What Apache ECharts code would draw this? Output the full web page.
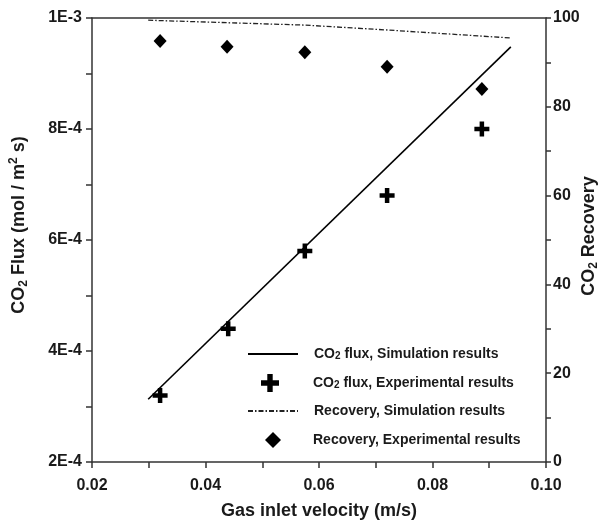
<!DOCTYPE html>
<html>
<head>
<meta charset="utf-8">
<script src="https://cdn.jsdelivr.net/npm/echarts@6/dist/echarts.min.js"></script>
<style>html,body{margin:0;padding:0;background:#fff}#c{width:600px;height:521px}</style>
</head>
<body>
<div id="c"></div>
<script>
// ---- data ----
const fluxSimX = [0.0299, 0.0938];
const fluxSimY = [3.13e-4, 9.48e-4];
const fluxExpX = [0.032, 0.044, 0.0575, 0.072, 0.0887];
const fluxExpY = [3.2e-4, 4.4e-4, 5.8e-4, 6.8e-4, 8.0e-4];
const recSimX = [0.0299, 0.0575, 0.072, 0.0938];
const recSimY = [99.5, 98.4, 97.3, 95.5];
const recExpX = [0.032, 0.0438, 0.0575, 0.072, 0.0887];
const recExpY = [94.8, 93.5, 92.3, 89.0, 84.0];
const seriesNames = ['CO2 flux, Simulation results', 'CO2 flux, Experimental results',
  'Recovery, Simulation results', 'Recovery, Experimental results'];
const xTickLabels = ['0.02', '0.04', '0.06', '0.08', '0.10'];
const yLeftTickLabels = ['2E-4', '4E-4', '6E-4', '8E-4', '1E-3'];
const yRightTickLabels = ['0', '20', '40', '60', '80', '100'];

const zip = (xs, ys) => xs.map((x, i) => [x, ys[i]]);
const FONT = "'Liberation Sans', Arial, sans-serif";
const TXT = '#1a1a1a';
const AX = '#333';
const plusPath = 'path://M3.5,0H6.5V3.5H10V6.5H6.5V10H3.5V6.5H0V3.5H3.5Z';

function legendRich(sp) {
  return {
    sp: {width: sp},
    a: {fontSize: 14, fontWeight: 'bold', lineHeight: 14, verticalAlign: 'top', color: TXT, fontFamily: FONT},
    s: {fontSize: 10, fontWeight: 'bold', lineHeight: 11, verticalAlign: 'bottom', color: TXT, fontFamily: FONT}
  };
}
function legendFmt(name) {
  if (name.indexOf('CO2') === 0) return '{sp| }{a|CO}{s|2}{a|' + name.slice(3) + '}';
  return '{sp| }{a|' + name + '}';
}
// textX: where the label text should start; the spacer fills the gap after the icon
function mkLegend(name, left, top, w, h, textX, hideSymbol) {
  const item = {name: name};
  if (hideSymbol) item.itemStyle = {color: 'rgba(0,0,0,0)', borderColor: 'rgba(0,0,0,0)', borderWidth: 0, opacity: 0};
  return {
    show: true, orient: 'vertical', left: left, top: top, padding: 0,
    itemWidth: w, itemHeight: h, data: [item], selectedMode: false,
    formatter: legendFmt,
    textStyle: {rich: legendRich(textX - (left + w + 5)), color: TXT, fontFamily: FONT}
  };
}

const chart = echarts.init(document.getElementById('c'), null, {renderer: 'canvas'});
chart.setOption({
  animation: false,
  backgroundColor: '#fff',
  grid: {left: 92, right: 54, top: 18, bottom: 59, containLabel: false, outerBoundsMode: 'none'},
  legend: [
    mkLegend(seriesNames[0], 247, 347, 50, 16, 313, true),
    mkLegend(seriesNames[1], 261, 374, 18, 18, 313, false),
    mkLegend(seriesNames[2], 247, 404, 50, 16, 313, true),
    mkLegend(seriesNames[3], 265, 432, 16, 16, 313, false)
  ],
  xAxis: [{
    type: 'value', min: 0.02, max: 0.10, interval: 0.01, position: 'bottom',
    name: 'Gas inlet velocity (m/s)', nameLocation: 'middle', nameGap: 40, nameMoveOverlap: false,
    nameTextStyle: {fontSize: 18, fontWeight: 'bold', color: TXT, fontFamily: FONT},
    axisLine: {show: true, lineStyle: {color: AX, width: 1.5}},
    axisTick: {show: true, inside: false, length: 6, lineStyle: {color: AX, width: 1.5}},
    axisLabel: {
      margin: 16, fontSize: 16, fontWeight: 'bold', color: TXT, fontFamily: FONT,
      formatter: v => { const k = Math.round(v * 100); return k % 2 === 0 ? xTickLabels[(k - 2) / 2] : ''; }
    },
    splitLine: {show: false}
  }, {
    type: 'value', min: 0.02, max: 0.10, position: 'top',
    axisLine: {show: true, lineStyle: {color: AX, width: 1.5}},
    axisTick: {show: false}, axisLabel: {show: false}, splitLine: {show: false}
  }],
  yAxis: [{
    type: 'value', min: 2e-4, max: 1e-3, interval: 1e-4, position: 'left',
    name: '{a|CO}{s|2}{a| Flux (mol / m}{p|2}{a| s)}', nameLocation: 'middle', nameGap: 62, nameMoveOverlap: false,
    nameTextStyle: {
      color: TXT, fontFamily: FONT, padding: [0, 0, 0, 30],
      rich: {
        a: {fontSize: 18, fontWeight: 'bold', lineHeight: 22, color: TXT, fontFamily: FONT},
        s: {fontSize: 12, fontWeight: 'bold', lineHeight: 12, verticalAlign: 'bottom', color: TXT, fontFamily: FONT},
        p: {fontSize: 12, fontWeight: 'bold', lineHeight: 14, verticalAlign: 'top', color: TXT, fontFamily: FONT}
      }
    },
    axisLine: {show: true, lineStyle: {color: AX, width: 1.5}},
    axisTick: {show: true, inside: false, length: 6, lineStyle: {color: AX, width: 1.5}},
    axisLabel: {
      margin: 10, fontSize: 16, fontWeight: 'bold', color: TXT, fontFamily: FONT,
      formatter: v => { const k = Math.round(v * 1e4); return k % 2 === 0 ? yLeftTickLabels[(k - 2) / 2] : ''; }
    },
    splitLine: {show: false}
  }, {
    type: 'value', min: 0, max: 100, interval: 10, position: 'right',
    name: '{a|CO}{s|2}{a| Recovery}', nameLocation: 'middle', nameGap: 32, nameRotate: 90, nameMoveOverlap: false,
    nameTextStyle: {
      color: TXT, fontFamily: FONT, padding: [0, 0, 0, 8],
      rich: {
        a: {fontSize: 18, fontWeight: 'bold', lineHeight: 22, color: TXT, fontFamily: FONT},
        s: {fontSize: 12, fontWeight: 'bold', lineHeight: 12, verticalAlign: 'bottom', color: TXT, fontFamily: FONT}
      }
    },
    axisLine: {show: true, lineStyle: {color: AX, width: 1.5}},
    axisTick: {show: true, inside: false, length: 5, lineStyle: {color: AX, width: 1.5}},
    axisLabel: {
      margin: 7, fontSize: 16, fontWeight: 'bold', color: TXT, fontFamily: FONT,
      formatter: v => { const k = Math.round(v); return k % 20 === 0 ? yRightTickLabels[k / 20] : ''; }
    },
    splitLine: {show: false}
  }],
  series: [{
    name: seriesNames[0], type: 'line', xAxisIndex: 0, yAxisIndex: 0,
    data: zip(fluxSimX, fluxSimY), symbol: 'none', color: '#000',
    lineStyle: {color: '#000', width: 1.6}
  }, {
    name: seriesNames[1], type: 'scatter', xAxisIndex: 0, yAxisIndex: 0,
    data: zip(fluxExpX, fluxExpY), symbol: plusPath, symbolSize: 15, symbolKeepAspect: true,
    itemStyle: {color: '#000', opacity: 1}
  }, {
    name: seriesNames[2], type: 'line', xAxisIndex: 0, yAxisIndex: 1,
    data: zip(recSimX, recSimY), symbol: 'none', color: '#222',
    lineStyle: {color: '#222', width: 1.3, type: [5, 2, 1.5, 2]}
  }, {
    name: seriesNames[3], type: 'scatter', xAxisIndex: 0, yAxisIndex: 1,
    data: zip(recExpX, recExpY), symbol: 'diamond', symbolSize: [13, 14],
    itemStyle: {color: '#000', opacity: 1}
  }]
});
</script>
</body>
</html>
